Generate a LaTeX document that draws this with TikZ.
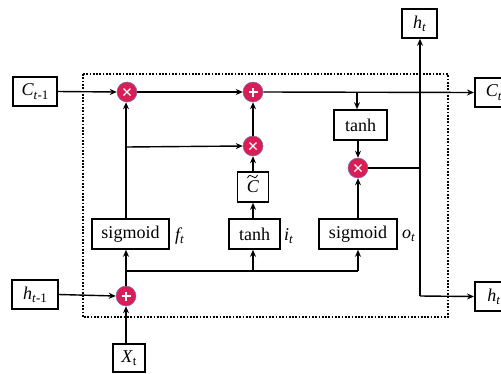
\documentclass[tikz,border=0pt]{standalone}
\usepackage{fontspec}
\setmainfont{Liberation Serif}
\usetikzlibrary{arrows.meta,calc}
\definecolor{opred}{RGB}{216,30,84}
\definecolor{opedge}{RGB}{120,110,180}
\newcommand\lsub[1]{\raisebox{-0.4ex}{\fontsize{13}{13}\selectfont #1}}
\begin{document}
\begin{tikzpicture}[x=1pt,y=-1pt, font=\fontsize{18}{20}\selectfont,
 box/.style={draw,line width=1.6pt,fill=white,inner sep=0pt,minimum height=29pt},
 conn/.style={line width=1.4pt},
 arr/.style={conn,-{Stealth[length=7pt,width=6pt]}},
 opc/.style={circle,fill=opred,draw=opedge,line width=0.5pt,minimum size=20pt,inner sep=0pt},
 plusop/.style={opc,path picture={\draw[white,line width=1.4pt]
   ([xshift=-4.5pt]path picture bounding box.center) -- ([xshift=4.5pt]path picture bounding box.center)
   ([yshift=-4.5pt]path picture bounding box.center) -- ([yshift=4.5pt]path picture bounding box.center);}},
 timesop/.style={opc,path picture={\draw[white,line width=1.4pt]
   ([shift={(-3.5pt,-3.5pt)}]path picture bounding box.center) -- ([shift={(3.5pt,3.5pt)}]path picture bounding box.center)
   ([shift={(-3.5pt,3.5pt)}]path picture bounding box.center) -- ([shift={(3.5pt,-3.5pt)}]path picture bounding box.center);}},
 gatelabel/.style={inner sep=0pt,font=\fontsize{18}{20}\selectfont\itshape}
]
\path[use as bounding box] (0,0) rectangle (501,373);
\clip (0,0) rectangle (501,373);

% dotted cell boundary
\draw[line width=1.7pt,dash pattern=on 1.7pt off 1.6pt] (83,74) rectangle (448,317);

% nodes
\node[box,minimum width=44pt] (cm1) at (35,91.5) {\textit{C}\lsub{\textit{t}-1}};
\node[box,minimum width=46pt] (hm1) at (35,294.5) {\textit{h}\lsub{\textit{t}-1}};
\node[box,minimum width=32pt,minimum height=28pt] (xt) at (129,358) {\textit{X}\lsub{t}};
\node[box,minimum width=35pt] (httop) at (419.5,23.5) {\textit{h}\lsub{\textit{t}}};
\node[box,minimum width=38pt,anchor=west] (ct) at (474,92.5) {\textit{C}\lsub{\textit{t}}};
\node[box,minimum width=38pt,anchor=west] (htr) at (474,296.5) {\textit{h}\lsub{\textit{t}}};

\node[timesop] (mul1) at (127,92) {};
\node[plusop] (add1) at (253,92) {};
\node[timesop] (mul2) at (253,146) {};
\node[box,minimum width=31pt,minimum height=30pt,text depth=-3pt] (ctil) at (253,187) {\textit{C}};
\draw[line width=0.8pt] (247.5,178) .. controls (249,174.5) and (251,175) .. (252.5,176.5)
  .. controls (254,178) and (256,178.5) .. (257.5,175);
\node[box,minimum width=51pt,minimum height=30pt] (tanh1) at (254.5,234) {tanh};
\node[gatelabel,anchor=west] (it) at (284,236) {i\lsub{t}};
\node[box,minimum width=77pt,minimum height=30pt] (sigf) at (130.5,234) {sigmoid};
\node[gatelabel,anchor=west] (ft) at (175,236) {f\lsub{t}};
\node[box,minimum width=78pt,minimum height=30pt] (sigo) at (358,234) {sigmoid};
\node[gatelabel,anchor=west] (ot) at (402,236) {o\lsub{t}};
\node[box,minimum width=53pt,minimum height=30pt] (tanh2) at (360.5,125) {tanh};
\node[timesop] (mul3) at (358,168) {};
\node[plusop] (addb) at (126,296) {};

\coordinate (jf) at (126,147);
\coordinate (jx) at (126,271);
\coordinate (jc) at (357,92);
\coordinate (jh) at (420,296);

% cell state line
\draw[arr] (cm1.east) -- (mul1.west);
\draw[arr] (mul1.east) -- (add1.west);
\draw[arr] (add1.east) -- (ct.west);

% forget gate
\draw[arr] (sigf.north -| jf) -- (mul1.south -| jf);
\draw[arr] (jf) -- (mul2.west);

% input gate
\draw[arr] (mul2.north) -- (add1.south);
\draw[arr] (ctil.north) -- (mul2.south);
\draw[arr] (tanh1.north -| ctil.north) -- (ctil.south);

% inputs
\draw[arr] (hm1.east) -- (addb.west);
\draw[arr] (xt.north -| addb.south) -- (addb.south);
\draw[arr] (addb.north) -- (sigf.south -| addb.north);
\draw[conn] (jx) -- (jx -| sigo.south);
\draw[arr] (jx -| ctil.south) -- (tanh1.south -| ctil.south);
\draw[arr] (jx -| sigo.south) -- (sigo.south);

% output gate
\draw[arr] (jc) -- (tanh2.north -| jc);
\draw[arr] (tanh2.south -| mul3.north) -- (mul3.north);
\draw[arr] (sigo.north) -- (mul3.south);
\draw[conn] (mul3.east) -- (mul3.east -| jh);
\draw[arr] (jh) -- (httop.south -| jh);
\draw[arr] (jh) -- (htr.west);
\end{tikzpicture}
\end{document}
